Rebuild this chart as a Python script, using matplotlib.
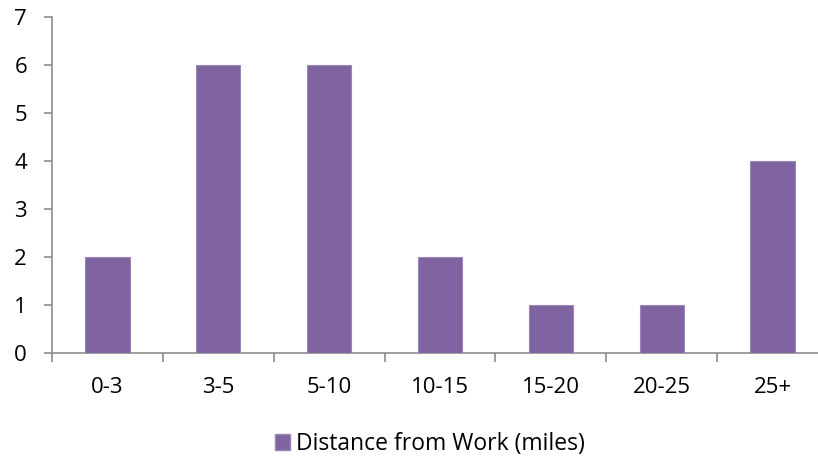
import matplotlib
matplotlib.use("Agg")
import matplotlib.pyplot as plt
from matplotlib.patches import Patch

categories = ["0-3", "3-5", "5-10", "10-15", "15-20", "20-25", "25+"]
counts = [2, 6, 6, 2, 1, 1, 4]
series_name = "Distance from Work (miles)"
y_ticks = [0, 1, 2, 3, 4, 5, 6, 7]

plt.rcParams["font.family"] = ["Open Sans", "DejaVu Sans"]

W, H = 818, 461
fig = plt.figure(figsize=(W / 100, H / 100), dpi=100)
ax = fig.add_axes([52 / W, 108 / H, 776 / W, 336 / H])

bar_color = "#8064A2"
x = range(len(categories))
ax.bar(x, counts, width=0.4, color=bar_color, edgecolor="#9A86B6", linewidth=0.8, zorder=3)

ax.set_xlim(-0.5, len(categories) - 0.5)
ax.set_ylim(0, 7)
ax.set_yticks(y_ticks)
ax.set_yticklabels([str(v) for v in y_ticks])

# Category labels centred under bars, tick marks on the category boundaries
ax.set_xticks([i for i in x])
ax.set_xticklabels(categories)
ax.set_xticks([i - 0.5 for i in range(len(categories) + 1)], minor=True)
ax.tick_params(axis="x", which="major", length=0, pad=17, labelsize=16)
ax.tick_params(axis="x", which="minor", length=6.5, width=1.2, color="#8C8C8C", direction="out")
ax.tick_params(axis="y", length=6, width=1.2, color="#8C8C8C", direction="out", pad=12, labelsize=16)

for side in ("top", "right"):
    ax.spines[side].set_visible(False)
for side in ("left", "bottom"):
    ax.spines[side].set_color("#8C8C8C")
    ax.spines[side].set_linewidth(1.2)

handle = Patch(facecolor=bar_color, edgecolor="#9A86B6", label=series_name)
fig.legend(handles=[handle], loc="center", bbox_to_anchor=(430 / W, 1 - 444 / H),
           frameon=False, fontsize=16.5, handlelength=0.65, handleheight=0.65,
           handletextpad=0.3, borderaxespad=0)

fig.savefig("out.png", dpi=100)
